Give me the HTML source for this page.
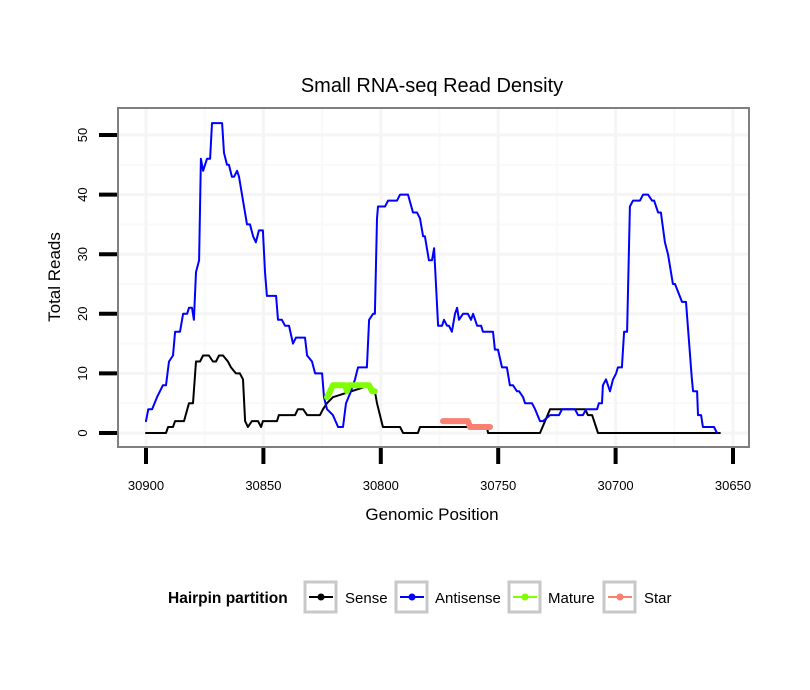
<!DOCTYPE html>
<html><head><meta charset="utf-8"><style>
body{margin:0;background:#fff;}
svg{display:block;font-family:"Liberation Sans",sans-serif;}
</style></head><body>
<svg id="chart" width="810" height="690" xmlns="http://www.w3.org/2000/svg">
<rect width="810" height="690" fill="#fff"/>
<text x="432" y="92" font-size="20" text-anchor="middle">Small RNA-seq Read Density</text>
<g id="grid"></g>
<g id="series"></g>
<rect x="118" y="108" width="631" height="339" fill="none" stroke="#7f7f7f" stroke-width="2"/>
<g id="axes"></g>
<text x="432" y="520" font-size="17" text-anchor="middle">Genomic Position</text>
<text x="0" y="0" font-size="17" text-anchor="middle" transform="translate(60,277) rotate(-90)">Total Reads</text>
<g>
<text x="168" y="603" font-size="15.5" font-weight="bold">Hairpin partition</text>
<g>
<rect x="305" y="582" width="31" height="30" fill="#fff" stroke="#c8c8c8" stroke-width="3"/>
<line x1="309" y1="597" x2="333" y2="597" stroke="#000" stroke-width="2"/><circle cx="321" cy="597" r="3.5" fill="#000"/>
<text x="345" y="603" font-size="15">Sense</text></g>
<g>
<rect x="396" y="582" width="31" height="30" fill="#fff" stroke="#c8c8c8" stroke-width="3"/>
<line x1="400" y1="597" x2="424" y2="597" stroke="#0000ff" stroke-width="2"/><circle cx="412" cy="597" r="3.5" fill="#0000ff"/>
<text x="435" y="603" font-size="15">Antisense</text></g>
<g>
<rect x="509" y="582" width="31" height="30" fill="#fff" stroke="#c8c8c8" stroke-width="3"/>
<line x1="513" y1="597" x2="537" y2="597" stroke="#7fff00" stroke-width="2"/><circle cx="525" cy="597" r="3.5" fill="#7fff00"/>
<text x="548" y="603" font-size="15">Mature</text></g>
<g>
<rect x="604" y="582" width="31" height="30" fill="#fff" stroke="#c8c8c8" stroke-width="3"/>
<line x1="608" y1="597" x2="632" y2="597" stroke="#fa8072" stroke-width="2"/><circle cx="620" cy="597" r="3.5" fill="#fa8072"/>
<text x="644" y="603" font-size="15">Star</text></g>
</g>
</svg>
<script>
const xTicks = [30900, 30850, 30800, 30750, 30700, 30650];
const yTicks = [0, 10, 20, 30, 40, 50];
const antisensePos = [30900,30899,30897.4,30895.3,30892.8,30891.5,30890.2,30888.5,30887.6,30885.5,30884.2,30882.5,30881.7,30880.4,30879.6,30878.7,30877.4,30876.6,30875.7,30874,30872.7,30871.9,30867.6,30866.8,30865.5,30864.7,30863.4,30862.5,30861.2,30860.4,30858.7,30857,30855.7,30854.4,30853.2,30851.9,30850.2,30849.3,30848.5,30844.6,30843.8,30842.1,30840.8,30839.1,30837.4,30836.1,30832.3,30831.4,30829.3,30828,30825,30824.2,30822.9,30820.4,30818.2,30816.1,30814.8,30812.7,30811,30809.7,30805.9,30805,30803.3,30802.5,30801.6,30801.2,30798.2,30796.9,30793.1,30791.8,30788.4,30786.3,30784.6,30783.3,30782,30781.2,30779.5,30778.2,30777.3,30775.6,30773.9,30773.1,30771.8,30771,30769.7,30768.4,30767.5,30766.7,30765,30762.9,30761.6,30760.7,30759,30757.3,30756.5,30752.2,30751.4,30750.1,30748.4,30746.3,30745,30743.7,30742,30741.1,30739.4,30738.6,30735.6,30734.3,30732.2,30730.9,30727.9,30724.1,30722.8,30717.3,30716,30713.9,30712.6,30707.9,30707.1,30705.8,30705.4,30704.1,30702.4,30701.1,30699.8,30699,30697.3,30696.4,30695.1,30693.9,30692.6,30689.6,30688.3,30686.2,30684.5,30683.6,30681.9,30680.7,30679,30677.7,30675.6,30674.7,30671.7,30670,30667.5,30667,30665.3,30664.9,30663.6,30662.8,30658.1,30656.8];
const antisenseReads = [2,4,4,6,8,8,12,13,17,17,20,20,21,21,19,27,29,46,44,46,46,52,52,47,45,45,43,43,44,43,39,35,35,33,32,34,34,27,23,23,19,19,18,18,15,16,16,13,12,10,10,6,4,3,1,1,5,7,9,11,11,19,20,20,36,38,38,39,39,40,40,37,37,36,33,33,29,29,31,18,18,19,18,18,17,20,21,19,20,20,19,20,18,18,17,17,14,14,11,11,8,8,7,7,6,5,5,4,2,2,3,3,4,4,3,3,4,4,5,5,8,9,7,9,10,11,11,17,17,38,39,39,40,40,39,39,37,37,32,30,25,25,22,22,9,7,7,3,3,1,1,0];
const sensePos = [30900,30891.5,30890.6,30888.5,30887.6,30883.8,30881.7,30880,30878.7,30877,30875.7,30873.2,30871.5,30870.2,30868.9,30867.2,30865.1,30863.8,30861.7,30860,30858.7,30857.8,30856.6,30854.9,30852.3,30851,30850.2,30844.2,30843.4,30836.5,30835.3,30833.1,30831.4,30825.9,30824.6,30822.9,30820.4,30804.6,30802.5,30801.6,30799.1,30791.8,30790.5,30784.2,30783.3,30754.8,30754.3,30732.2,30727.9,30713,30711.8,30710,30707.5,30655.6];
const senseReads = [0,0,1,1,2,2,5,5,12,12,13,13,12,12,13,13,12,11,10,10,9,2,1,2,2,1,2,2,3,3,4,4,3,3,4,5,6,8,7,5,1,1,0,0,1,1,0,0,4,4,3,3,0,0];
const maturePos = [30822.9,30821.6,30820.4,30815.2,30814.4,30813.5,30805,30803.7,30802.5];
const matureReads = [6,7,8,8,7,8,8,7,7];
const starPos = [30773.5,30762.9,30762,30753.5];
const starReads = [2,2,1,1];

const NS='http://www.w3.org/2000/svg';
const PX0=118, PX1=749, PY0=108, PY1=447;
function xScale(p){ return 146 + (30900 - p) * (733 - 146) / 250; }
function yScale(v){ return 433 - v * (433 - 135) / 50; }
function mk(tag, attrs, parent){ const e=document.createElementNS(NS,tag); for(const k in attrs) e.setAttribute(k, attrs[k]); parent.appendChild(e); return e; }

const grid=document.getElementById('grid');
const axes=document.getElementById('axes');
for(let i=0;i<xTicks.length-1;i++){
  const x=xScale((xTicks[i]+xTicks[i+1])/2);
  const g=mk('line',{x1:x,x2:x,y1:PY0,y2:PY1,stroke:'#f9f9f9','stroke-width':2},grid);
  
  
}
for(let i=0;i<yTicks.length-1;i++){
  const y=yScale((yTicks[i]+yTicks[i+1])/2);
  const g=mk('line',{x1:PX0,x2:PX1,y1:y,y2:y,stroke:'#f9f9f9','stroke-width':2},grid);
  
  
}
xTicks.forEach(t=>{
  const x=xScale(t);
  const g=mk('line',{x1:x,x2:x,y1:PY0,y2:PY1,stroke:'#f5f5f5','stroke-width':3},grid);
  
  
  const tk=mk('line',{x1:x,x2:x,y1:PY1+1,y2:PY1+17,stroke:'#000','stroke-width':4},axes);
  
  
  const lb=mk('text',{x:x,y:490,'font-size':13,'text-anchor':'middle'},axes);
  lb.textContent=t;
  
  
});
yTicks.forEach(t=>{
  const y=yScale(t);
  const g=mk('line',{x1:PX0,x2:PX1,y1:y,y2:y,stroke:'#f5f5f5','stroke-width':3},grid);
  
  
  const tk=mk('line',{x1:99,x2:PX0-1,y1:y,y2:y,stroke:'#000','stroke-width':4},axes);
  
  
  const lb=mk('text',{x:0,y:0,'font-size':13,'text-anchor':'middle',transform:'translate(87,'+y+') rotate(-90)'},axes);
  lb.textContent=t;
  
  
});

const series=document.getElementById('series');
function drawLine(pos, vals, color, width, name){
  const pts=pos.map((p,i)=>xScale(p).toFixed(1)+','+yScale(vals[i]).toFixed(1)).join(' ');
  const pl=mk('polyline',{points:pts,fill:'none',stroke:color,'stroke-width':width,'stroke-linejoin':'round','stroke-linecap':'round'},series);
  
  
}
drawLine(sensePos, senseReads, '#000', 2, 'sense-line');
drawLine(antisensePos, antisenseReads, '#0000ff', 2, 'antisense-line');
drawLine(maturePos, matureReads, '#7fff00', 6, 'mature-line');
drawLine(starPos, starReads, '#fa8072', 6, 'star-line');
</script>
</body></html>
